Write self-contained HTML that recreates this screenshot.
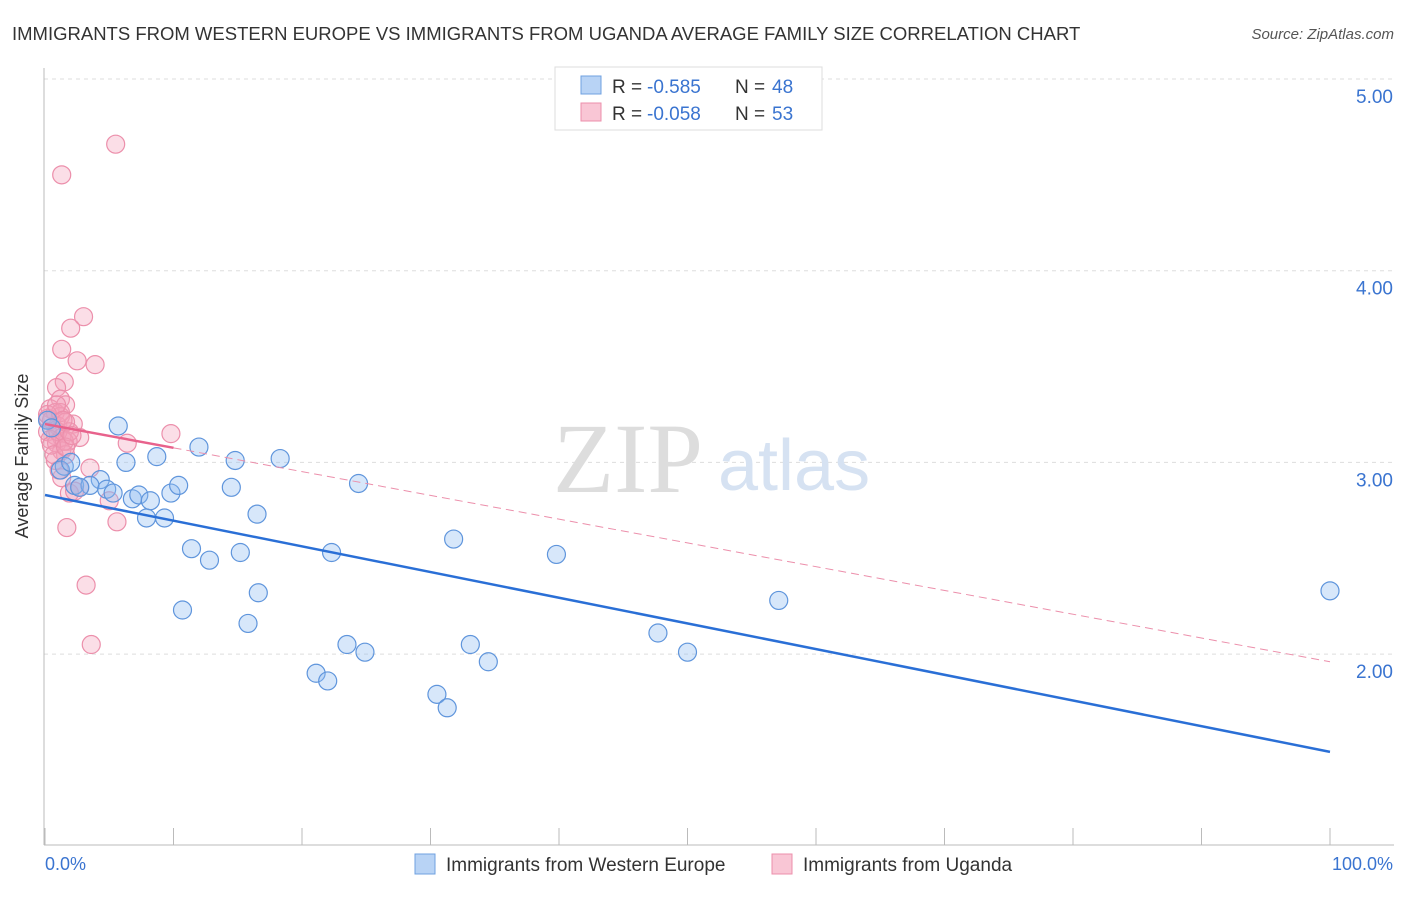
<!DOCTYPE html>
<html><head><meta charset="utf-8"><style>
body{margin:0;background:#fff;font-family:"Liberation Sans",sans-serif;}
</style></head><body>
<svg width="1406" height="892" xmlns="http://www.w3.org/2000/svg" id="chart">
<text x="12" y="40" font-size="18.5" fill="#333">IMMIGRANTS FROM WESTERN EUROPE VS IMMIGRANTS FROM UGANDA AVERAGE FAMILY SIZE CORRELATION CHART</text>
<text x="1394" y="39" font-size="15" fill="#555" font-style="italic" text-anchor="end">Source: ZipAtlas.com</text>
<g id="grid"></g>
<line x1="44" y1="68" x2="44" y2="845" stroke="#bbb"/>
<line x1="44" y1="845" x2="1394" y2="845" stroke="#bbb"/>
<text x="553" y="492" font-size="100" fill="#ddd" font-family="Liberation Serif,serif">ZIP</text>
<text x="718" y="490" font-size="72" fill="#d6e2f2">atlas</text>
<text x="28" y="456" font-size="18" fill="#333" transform="rotate(-90 28 456)" text-anchor="middle">Average Family Size</text>
<text x="45" y="870" font-size="18" fill="#3a74d0">0.0%</text>
<text x="1393" y="870" font-size="18" fill="#3a74d0" text-anchor="end">100.0%</text>
<g id="marks"></g>
<g>
<rect x="555" y="67" width="267" height="63" fill="#fff" stroke="#ddd"/>
<rect x="581" y="76" width="20" height="18" fill="#b8d3f5" stroke="#6fa0e0"/>
<text x="612" y="93" font-size="19" fill="#333">R =</text>
<text x="647" y="93" font-size="19" fill="#3a74d0">-0.585</text>
<text x="735" y="93" font-size="19" fill="#333">N =</text>
<text x="772" y="93" font-size="19" fill="#3a74d0">48</text>
<rect x="581" y="103" width="20" height="18" fill="#f9c6d5" stroke="#ec8fab"/>
<text x="612" y="120" font-size="19" fill="#333">R =</text>
<text x="647" y="120" font-size="19" fill="#3a74d0">-0.058</text>
<text x="735" y="120" font-size="19" fill="#333">N =</text>
<text x="772" y="120" font-size="19" fill="#3a74d0">53</text>
</g>
<g>
<rect x="415" y="854" width="20" height="20" fill="#b8d3f5" stroke="#6fa0e0"/>
<text x="446" y="871" font-size="19" fill="#333">Immigrants from Western Europe</text>
<rect x="772" y="854" width="20" height="20" fill="#f9c6d5" stroke="#ec8fab"/>
<text x="803" y="871" font-size="19" fill="#333">Immigrants from Uganda</text>
</g>
</svg>
<script>
const yTicks=[5,4,3,2];
const xTicks=[0,10,20,30,40,50,60,70,80,90,100];
const blueX=[5.7,6.3,8.7,11.98,14.8,18.3,24.4,1.5,4.3,2.3,3.5,4.8,5.3,6.8,7.3,8.2,9.8,10.4,14.5,7.9,9.3,16.5,11.4,12.8,15.2,22.3,31.8,39.8,10.7,16.6,15.8,21.1,22,23.5,24.9,30.5,31.3,33.1,34.5,47.7,50,57.1,100,0.2,2.7,1.2,0.5,2];
const blueY=[3.19,3.0,3.03,3.08,3.01,3.02,2.89,2.98,2.91,2.88,2.88,2.86,2.84,2.81,2.83,2.8,2.84,2.88,2.87,2.71,2.71,2.73,2.55,2.49,2.53,2.53,2.6,2.52,2.23,2.32,2.16,1.9,1.86,2.05,2.01,1.79,1.72,2.05,1.96,2.11,2.01,2.28,2.33,3.22,2.87,2.96,3.18,3.0];
const pinkX=[5.5,1.3,3,2,1.3,2.5,3.9,1.5,0.9,1.2,1.6,0.4,0.8,1.2,0.2,0.5,1,2.2,0.2,0.8,1.3,2.7,1.8,0.4,0.9,6.4,9.8,1.3,1.6,0.8,3.5,1.3,2.7,1.9,5,5.6,1.7,3.2,3.6,1.5,1,0.5,1.9,1.2,1.6,0.7,2.3,1.1,0.2,1.6,2.1,0.9,1.4];
const pinkY=[4.66,4.5,3.76,3.7,3.59,3.53,3.51,3.42,3.39,3.33,3.3,3.28,3.26,3.24,3.23,3.22,3.19,3.2,3.16,3.14,3.13,3.13,3.11,3.12,3.1,3.1,3.15,3.06,3.04,3.01,2.97,2.92,2.87,2.84,2.8,2.69,2.66,2.36,2.05,3.11,3.16,3.09,3.16,3.26,3.21,3.04,2.85,2.96,3.25,3.08,3.14,3.3,3.22];
const blueFit=[2.83,1.49];
const pinkFit=[3.2,1.96];
const xs=v=>45+v/100*1285;
const ys=v=>79+(5-v)*191.7;
const NS='http://www.w3.org/2000/svg';
const grid=document.getElementById('grid'),marks=document.getElementById('marks');
function mk(t,a,p){const e=document.createElementNS(NS,t);for(const k in a)e.setAttribute(k,a[k]);(p||marks).appendChild(e);return e;}
yTicks.forEach(t=>{
 const l=mk('line',{x1:44,x2:1394,y1:ys(t),y2:ys(t),stroke:'#ddd','stroke-dasharray':'4,4'},grid);
 
 
 const tx=mk('text',{x:1393,y:ys(t)+24,'font-size':19,fill:'#3a74d0','text-anchor':'end'},grid);
 tx.textContent=t.toFixed(2);
 
 
});
xTicks.forEach(t=>{
 const l=mk('line',{x1:xs(t),x2:xs(t),y1:828,y2:845,stroke:'#bbb'},grid);
 
 
});
pinkX.forEach((x,i)=>{
 const c=mk('circle',{cx:xs(x),cy:ys(pinkY[i]),r:9,fill:'rgba(244,160,186,0.35)',stroke:'#ec8fab','stroke-width':1.2});
 
 
});
blueX.forEach((x,i)=>{
 const c=mk('circle',{cx:xs(x),cy:ys(blueY[i]),r:9,fill:'rgba(140,185,240,0.35)',stroke:'#5f95dc','stroke-width':1.2});
 
 
});
const bl=mk('line',{x1:xs(0),y1:ys(blueFit[0]),x2:xs(100),y2:ys(blueFit[1]),stroke:'#2a6fd6','stroke-width':2.5});


const pm=v=>pinkFit[0]+(pinkFit[1]-pinkFit[0])*v/100;
const pd=mk('line',{x1:xs(10),y1:ys(pm(10)),x2:xs(100),y2:ys(pinkFit[1]),stroke:'#ec8fab','stroke-width':1,'stroke-dasharray':'8,5'});


const ps=mk('line',{x1:xs(0),y1:ys(pinkFit[0]),x2:xs(10),y2:ys(pm(10)),stroke:'#e8628c','stroke-width':2.5});


</script>
</body></html>
